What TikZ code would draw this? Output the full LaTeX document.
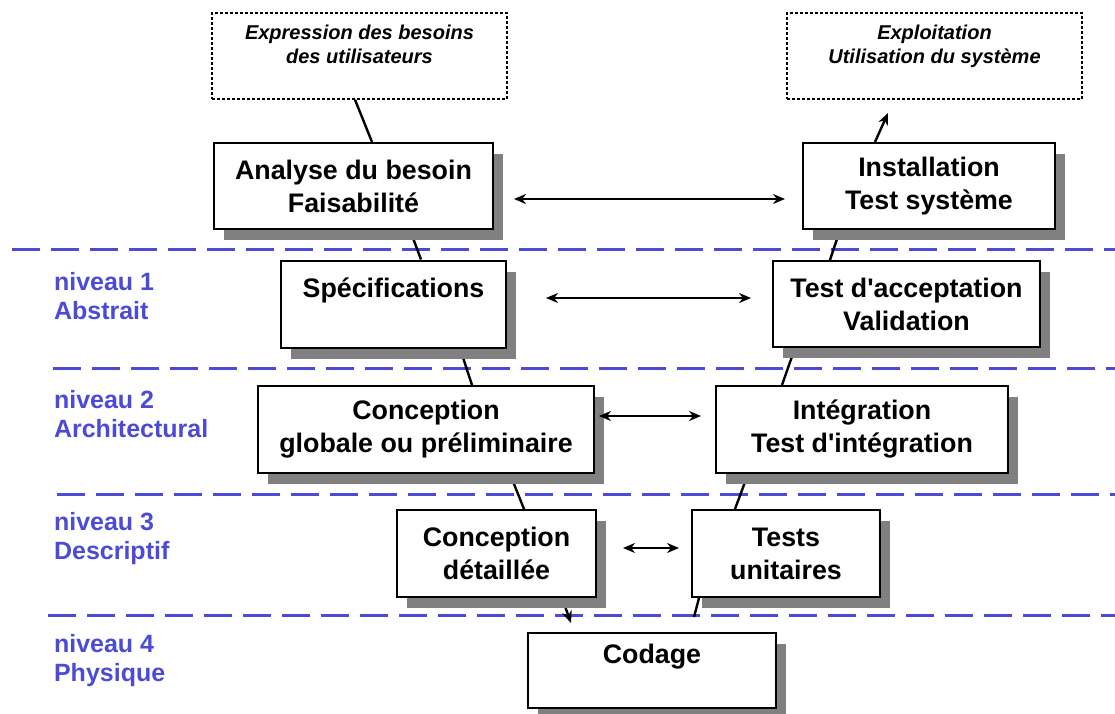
\documentclass[tikz,border=0pt]{standalone}
\usepackage{fontspec}
\setmainfont{Liberation Sans}
\usetikzlibrary{
    arrows.meta,
    shadows,
    calc,
    backgrounds
}
\definecolor{levelblue}{RGB}{75,75,215}
\definecolor{shadowgray}{RGB}{128,128,128}

\tikzset{
    phasebox/.style={draw, line width=1pt, fill=white, align=center, inner sep=0pt,
        font=\bfseries\fontsize{13.4}{16.5}\selectfont,
        drop shadow={shadow xshift=5pt, shadow yshift=-5.5pt, fill=shadowgray, opacity=1}},
    userbox/.style={draw, line width=0.7pt, dash pattern=on 1.5pt off 1pt, align=center, inner sep=0pt,
        font=\bfseries\itshape\fontsize{10}{12}\selectfont},
    levellabel/.style={anchor=west, align=left, text=levelblue,
        font=\bfseries\fontsize{12.5}{14.5}\selectfont},
    levelline/.style={draw=levelblue, line width=1.5pt, dash pattern=on 14pt off 5.5pt},
    link/.style={line width=1.2pt},
    flow/.style={line width=1.1pt, {Stealth[length=6pt,width=5pt]}-{Stealth[length=6pt,width=5pt]}},
    goto/.style={line width=1.2pt, -{Stealth[length=6pt,width=5pt]}}
}

\begin{document}
\begin{tikzpicture}[x=0.5pt, y=-0.5pt]
    \useasboundingbox (0,0) rectangle (1115,713);

    % user side
    \node[userbox, minimum width=147.5pt, minimum height=43pt] (besoins) at (359.5,56) {Expression des besoins\\des utilisateurs\\~};
    \node[userbox, minimum width=147.5pt, minimum height=43pt] (exploit) at (934.5,56) {Exploitation\\Utilisation du système\\~};

    % phases
    \node[phasebox, minimum width=139.5pt, minimum height=43pt] (analyse) at (353.5,186) {Analyse du besoin\\Faisabilité};
    \node[phasebox, minimum width=126pt, minimum height=43pt] (install) at (929,186) {Installation\\Test système};
    \node[phasebox, minimum width=112.5pt, minimum height=43.5pt] (specs) at (393.5,304) {Spécifications\\~};
    \node[phasebox, minimum width=133.5pt, minimum height=43pt] (accept) at (906.5,304) {Test d\textquotesingle acceptation\\Validation};
    \node[phasebox, minimum width=168pt, minimum height=43.5pt] (concglob) at (426,429.5) {Conception\\globale ou préliminaire};
    \node[phasebox, minimum width=146pt, minimum height=43.5pt] (integ) at (862,429.5) {Intégration\\Test d\textquotesingle intégration};
    \node[phasebox, minimum width=99.5pt, minimum height=43.5pt] (concdet) at (496.5,553.5) {Conception\\détaillée};
    \node[phasebox, minimum width=94pt, minimum height=43.5pt] (tests) at (786,553.5) {Tests\\unitaires};
    \node[phasebox, minimum width=124pt, minimum height=37.5pt] (codage) at (652,670.5) {Codage\\~};

    % levels
    \node[levellabel] (niv1) at (47,296.5) {niveau 1\\Abstrait};
    \node[levellabel] (niv2) at (47,414) {niveau 2\\Architectural};
    \node[levellabel] (niv3) at (47,539) {niveau 3\\Descriptif};
    \node[levellabel] (niv4) at (47,661) {niveau 4\\Physique};

    \coordinate (codin) at (571,623);
    \coordinate (codout) at (694,617);
    \coordinate (exploitin) at (888,113);

    \begin{pgfonlayer}{background}
        \draw[levelline] (12,249) -- (1115,249);
        \draw[levelline] (53,368) -- (1115,368);
        \draw[levelline] (57,494) -- (1115,494);
        \draw[levelline] (48,615) -- (1115,615);

        \draw[link] ($(besoins.south)+(-4.5,0)$) -- ($(analyse.north)+(18.5,0)$);
        \draw[link] ($(analyse.south)+(56.5,0)$) -- ($(specs.north)+(27.5,0)$);
        \draw[link] ($(specs.south)+(66.5,0)$) -- ($(concglob.north)+(46,0)$);
        \draw[link] ($(concglob.south)+(84,0)$) -- ($(concdet.north)+(27.5,0)$);
        \draw[goto] ($(concdet.south)+(65.5,0)$) -- (codin);
        \draw[link] (codout) -- ($(tests.south)+(-87,0)$);
        \draw[link] ($(tests.north)+(-51,0)$) -- ($(integ.south)+(-114,0)$);
        \draw[link] ($(integ.north)+(-80,0)$) -- ($(accept.south)+(-111.5,0)$);
        \draw[link] ($(accept.north)+(-76.5,0)$) -- ($(install.south)+(-89,0)$);
        \draw[goto] ($(install.north)+(-54,0)$) -- (exploitin);
    \end{pgfonlayer}

    \draw[flow] ($(analyse.east)+(20,13)$) -- ($(install.west)+(-17,13)$);
    \draw[flow] ($(specs.east)+(39,-6)$) -- ($(accept.west)+(-21,-6)$);
    \draw[flow] ($(concglob.east)+(4,-13.5)$) -- ($(integ.west)+(-14,-13.5)$);
    \draw[flow] ($(concdet.east)+(26,-5.5)$) -- ($(tests.west)+(-12,-5.5)$);
\end{tikzpicture}
\end{document}
